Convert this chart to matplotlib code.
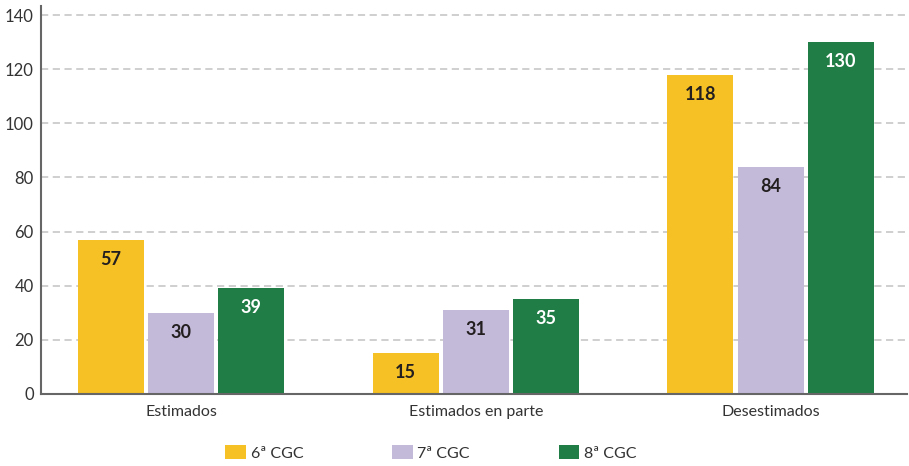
import matplotlib
matplotlib.use("Agg")
import matplotlib.pyplot as plt
import numpy as np
from matplotlib.patches import Patch

categories = ["Estimados", "Estimados en parte", "Desestimados"]
series_names = ["6ª CGC", "7ª CGC", "8ª CGC"]
cgc6 = [57, 15, 118]
cgc7 = [30, 31, 84]
cgc8 = [39, 35, 130]
yticks = [0, 20, 40, 60, 80, 100, 120, 140]

colors = ["#F5C124", "#C3BAD9", "#1F7D45"]
label_colors = ["#231F20", "#231F20", "#FFFFFF"]

plt.rcParams["font.family"] = ["Lato", "DejaVu Sans"]

fig = plt.figure(figsize=(9.09, 4.66), dpi=100)
ax = fig.add_axes([0.0448, 0.155, 0.953, 0.832])

x = np.arange(len(categories))
width = 0.224
pitch = 0.238
for i, (vals, col, lc) in enumerate(zip([cgc6, cgc7, cgc8], colors, label_colors)):
    pos = x + (i - 1) * pitch
    bars = ax.bar(pos, vals, width=width, color=col, zorder=3)
    for b, v in zip(bars, vals):
        ax.annotate(str(v), (b.get_x() + b.get_width() / 2, v),
                    xytext=(0, -14), textcoords="offset points",
                    ha="center", va="center", fontsize=13,
                    fontweight="bold", color=lc, zorder=4)

ax.set_xlim(-0.477, 2.463)
ax.set_ylim(0, 143.4)
ax.set_yticks(yticks)
ax.set_xticks(x)
ax.set_xticklabels(categories)
ax.tick_params(axis="both", length=0, labelsize=11.5, colors="#333333")
ax.tick_params(axis="x", pad=8)
ax.tick_params(axis="y", pad=5)
for t in ax.get_yticklabels():
    t.set_fontsize(12)

ax.yaxis.grid(True, color="#CCCCCC", linewidth=1.3, linestyle=(0, (4, 2.5)), zorder=0)
ax.set_axisbelow(True)
for s in ["top", "right"]:
    ax.spines[s].set_visible(False)
for s in ["left", "bottom"]:
    ax.spines[s].set_color("#666666")
    ax.spines[s].set_linewidth(1.5)
    ax.spines[s].set_zorder(5)

handles = [Patch(facecolor=c, edgecolor="none") for c in colors]
leg = fig.legend(handles, series_names, loc="center", bbox_to_anchor=(0.474, 0.028),
                 ncol=3, frameon=False, fontsize=11.5, handlelength=1.3,
                 handleheight=0.95, handletextpad=0.3, columnspacing=5.55)
for t in leg.get_texts():
    t.set_color("#333333")

fig.savefig("out.png", dpi=100)
